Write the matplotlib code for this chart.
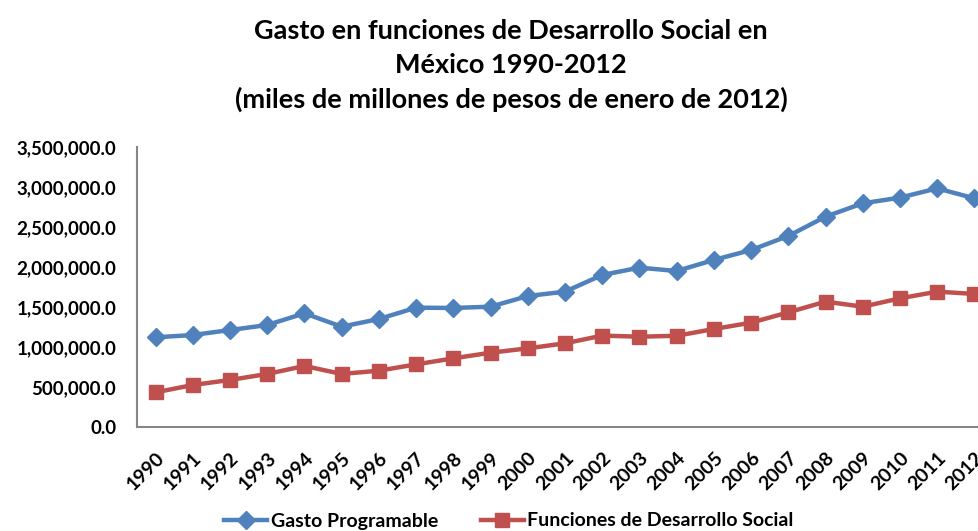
import matplotlib
matplotlib.use("Agg")
import matplotlib.pyplot as plt
from matplotlib.ticker import FuncFormatter

years = [str(y) for y in range(1990, 2013)]
gasto_programable = [1121000, 1150000, 1212000, 1275000, 1421000, 1254000, 1350000,
                     1492000, 1488000, 1504000, 1637000, 1692000, 1900000, 1992000,
                     1950000, 2088000, 2212000, 2388000, 2629000, 2796000, 2867000,
                     2983000, 2858000]
desarrollo_social = [433000, 525000, 588000, 663000, 763000, 663000, 704000, 783000,
                     858000, 929000, 983000, 1046000, 1142000, 1129000, 1140000,
                     1225000, 1304000, 1433000, 1567000, 1504000, 1608000, 1692000,
                     1663000]
title_text = ("Gasto en funciones de Desarrollo Social en\n"
              "México 1990-2012\n"
              "(miles de millones de pesos de enero de 2012)")

plt.rcParams['font.family'] = ['Lato', 'DejaVu Sans']

W, H = 979, 531
fig = plt.figure(figsize=(W / 100, H / 100), dpi=100)
ax_left, ax_right, ax_top, ax_bot = 137, 993, 147, 427
ax = fig.add_axes([ax_left / W, (H - ax_bot) / H, (ax_right - ax_left) / W,
                   (ax_bot - ax_top) / H])

x = list(range(len(years)))
blue = '#4F81BD'
red = '#C0504D'
ax.plot(x, gasto_programable, color=blue, lw=3.2, marker='D', markersize=9.5,
        label='Gasto Programable', clip_on=False, zorder=3)
ax.plot(x, desarrollo_social, color=red, lw=3.2, marker='s', markersize=10,
        label='Funciones de Desarrollo Social', clip_on=False, zorder=3)

ax.set_xlim(-0.5, len(years) - 0.5)
ax.set_ylim(0, 3500000)
ax.set_yticks(range(0, 3500001, 500000))
ax.yaxis.set_major_formatter(FuncFormatter(lambda v, p: f"{v:,.1f}"))
ax.set_xticks(x)
ax.set_xticklabels(years, rotation=45, ha='right', rotation_mode='anchor')

for s in ['top', 'right']:
    ax.spines[s].set_visible(False)
for s in ['left', 'bottom']:
    ax.spines[s].set_color('#868686')
    ax.spines[s].set_linewidth(1.5)

ax.tick_params(axis='y', length=0, pad=15, labelsize=13.5)
ax.tick_params(axis='x', length=0, pad=16, labelsize=14)
for lab in ax.get_yticklabels() + ax.get_xticklabels():
    lab.set_fontweight('bold')

fig.text(511 / W, 1 - 19 / H, title_text, ha='center', va='top', fontsize=19.5,
         fontweight='bold', linespacing=1.48)

leg = fig.legend(loc='center', bbox_to_anchor=(509 / W, 1 - 521 / H), ncol=2,
                 frameon=False, handlelength=2.2, columnspacing=2.2,
                 handletextpad=0.2, prop={'weight': 'bold', 'size': 14})

fig.savefig('out.png', dpi=100)
